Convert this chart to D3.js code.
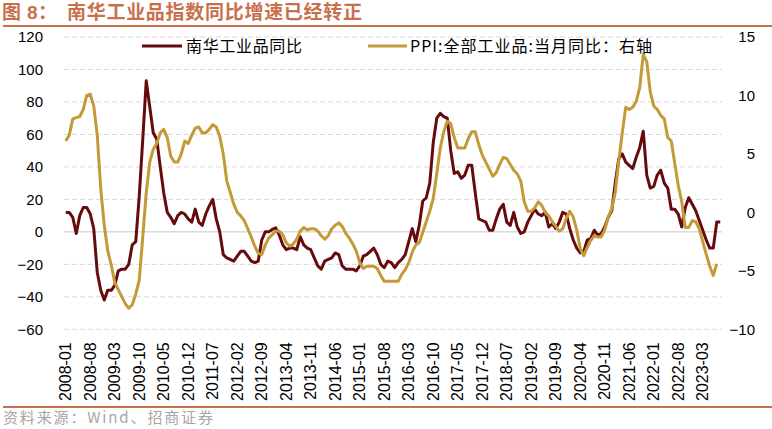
<!DOCTYPE html>
<html lang="zh-CN"><head><meta charset="utf-8">
<script src="https://cdn.jsdelivr.net/npm/d3@7/dist/d3.min.js"></script>
<style>
html,body{margin:0;padding:0;background:#fff;}
svg{display:block;}
</style></head>
<body>
<svg id="chart" width="772" height="429"></svg>
<script>
// ---- Data ----
const categories = (function(){ const out=[]; for(let y=2008;y<=2023;y++){ for(let m=1;m<=12;m++){ if(y===2023&&m>8) break; out.push(y+"-"+(m<10?"0"+m:m)); } } return out; })();

const tickLabels = ["2008-01","2008-08","2009-03","2009-10","2010-05","2010-12","2011-07","2012-02","2012-09","2013-04","2013-11","2014-06","2015-01","2015-08","2016-03","2016-10","2017-05","2017-12","2018-07","2019-02","2019-09","2020-04","2020-11","2021-06","2022-01","2022-08","2023-03"];

const seriesNames = ["南华工业品同比","PPI:全部工业品:当月同比：右轴"];

// 南华工业品指数同比 (left axis), 2008-01 .. 2023-08
const nanhua = [
 12,12,9,-1,10,15,15,11,2,-25,-36,-42,
 -36,-36,-33,-24,-23,-23,-20,-8,-6,22,57,93,
 77,61,57,40,24,12,9,5,10,12,11,8,
 6,14,6,4,11,16,20,8,0,-14,-16,-17,
 -18,-15,-12,-12,-15,-18,-19,-18,-5,0,0,1.5,
 2.5,-2,-8,-11,-10,-10,-11,-3,-8,-10,-11,-16,
 -21,-23,-18,-17,-16,-13,-14,-21,-23,-23,-23,-24,
 -21,-15,-14,-12,-10,-14,-20,-22,-18,-19,-22,-19,
 -17,-14,-6,2,-6,4,19,21,30,55,70,73,
 71,70,50,36,37,33,35,41,41,24,8,7,
 6,1,1,8,14,17,6,4,12,3,-1,0,
 6,10,14,11,10,12,3,5,2,6,12,11,
 2,-5,-10,-13,-12,-5,-4,1,-2,-1,3,9,
 13,30,45,48,43,41,39,46,52,62,35,27,
 28,35,38,30,27,14,14,11,3,15,21,17,
 13,7,1,-5,-10,-10,6,6
];

// PPI 全部工业品 当月同比 (right axis), 2008-01 .. 2023-07
const ppi = [
 6.1,6.6,8.0,8.1,8.2,8.8,10.0,10.1,9.1,6.6,2.0,-1.1,
 -3.3,-4.5,-6.0,-6.6,-7.2,-7.8,-8.2,-7.9,-7.0,-5.8,-2.1,1.7,
 4.3,5.4,5.9,6.8,7.1,6.4,4.8,4.3,4.3,5.0,6.1,5.9,
 6.6,7.2,7.3,6.8,6.8,7.1,7.5,7.3,6.5,5.0,2.7,1.7,
 0.7,0.0,-0.3,-0.7,-1.4,-2.1,-2.9,-3.5,-3.6,-2.8,-2.2,-1.9,
 -1.6,-1.6,-1.9,-2.6,-2.9,-2.7,-2.3,-1.6,-1.3,-1.5,-1.4,-1.4,
 -1.6,-2.0,-2.3,-2.0,-1.4,-1.1,-0.9,-1.2,-1.8,-2.2,-2.7,-3.3,
 -4.3,-4.8,-4.6,-4.6,-4.6,-4.8,-5.4,-5.9,-5.9,-5.9,-5.9,-5.9,
 -5.3,-4.9,-4.3,-3.4,-2.8,-2.6,-1.7,-0.8,0.1,1.2,3.3,5.5,
 6.9,7.8,7.6,6.4,5.5,5.5,5.5,6.3,6.9,6.9,5.8,4.9,
 4.3,3.7,3.1,3.4,4.1,4.7,4.6,4.1,3.6,3.3,2.7,0.9,
 0.1,0.1,0.4,0.9,0.6,0.0,-0.3,-0.8,-1.2,-1.6,-1.4,-0.5,
 0.1,-0.4,-1.5,-3.1,-3.7,-3.0,-2.4,-2.0,-2.1,-2.1,-1.5,-0.4,
 0.3,1.7,4.4,6.8,9.0,8.8,9.0,9.5,10.7,13.5,12.9,10.3,
 9.1,8.8,8.3,8.0,6.4,6.1,4.2,2.3,0.9,-1.3,-1.3,-0.7,
 -0.8,-1.4,-2.5,-3.6,-4.6,-5.4,-4.4
];

const leftTicks = [-60,-40,-20,0,20,40,60,80,100,120];
const rightTicks = [-10,-5,0,5,10,15];

// ---- Layout ----
const svg = d3.select("#chart");
const plot = {left:64, right:722, top:37, bottom:329.3};
const colMaroon = "#650B0E", colGold = "#C49A38", accent = "#C8704C";
const latin = "Arial, 'Liberation Sans', sans-serif";
const cjk = "'Noto Sans CJK SC', 'Noto Sans', sans-serif";
const titleFont = "Arial, 'Liberation Sans', 'Noto Sans CJK SC', sans-serif";

const x = d3.scaleBand().domain(categories).range([plot.left, plot.right]).padding(0);
const xc = c => x(c) + x.bandwidth()/2;
const yL = d3.scaleLinear().domain([-60,120]).range([plot.bottom, plot.top]);
const yR = d3.scaleLinear().domain([-10,15]).range([plot.bottom, plot.top]);

// Title
const title = svg.append("g").attr("font-family",titleFont).attr("font-size",19)
  .attr("font-weight","bold").attr("fill",accent);
title.append("text").attr("x",2).attr("y",18.5).text("图");
title.append("text").attr("x",27).attr("y",18.5).text("8");
title.append("text").attr("x",38).attr("y",18.5).text("：");
title.append("text").attr("x",67).attr("y",18.5)
  .attr("textLength",295).attr("lengthAdjust","spacing")
  .text("南华工业品指数同比增速已经转正");
svg.append("line").attr("x1",3).attr("x2",772).attr("y1",26).attr("y2",26)
  .attr("stroke",accent).attr("stroke-width",2);

// Gridlines
svg.append("g").selectAll("line").data(leftTicks).join("line")
  .attr("x1",plot.left).attr("x2",plot.right)
  .attr("y1",d=>yL(d)).attr("y2",d=>yL(d))
  .attr("stroke",d=>d===0?"#C8C8C8":"#D9D9D9")
  .attr("stroke-width",1)
  .attr("stroke-dasharray",d=>d===0?null:"5,3");

// Left axis
const gL = svg.append("g").attr("transform",`translate(${plot.left},0)`)
  .call(d3.axisLeft(yL).tickValues(leftTicks).tickSize(0).tickPadding(21));
gL.select(".domain").remove();
gL.selectAll("text").attr("font-family",latin).attr("font-size",15).attr("fill","#000");

// Right axis
const gR = svg.append("g").attr("transform",`translate(${plot.right},0)`)
  .call(d3.axisRight(yR).tickValues(rightTicks).tickSize(0).tickPadding(0));
gR.select(".domain").remove();
gR.selectAll("text").attr("font-family",latin).attr("font-size",15).attr("fill","#000")
  .attr("text-anchor","end").attr("x",33);

// Bottom axis
const gX = svg.append("g").attr("transform",`translate(0,${plot.bottom})`)
  .call(d3.axisBottom(x).tickValues(tickLabels).tickSize(0).tickFormat(d=>d));
gX.select(".domain").remove();
gX.selectAll(".tick").attr("transform", d=>`translate(${xc(d)},0)`);
gX.selectAll("text").attr("font-family",latin).attr("font-size",16).attr("fill","#000")
  .attr("transform","rotate(-90)").attr("text-anchor","end")
  .attr("x",-13).attr("y",0).attr("dy","0.35em");

// Lines
const lineL = d3.line().x((d,i)=>xc(categories[i])).y(d=>yL(d));
const lineR = d3.line().x((d,i)=>xc(categories[i])).y(d=>yR(d));
svg.append("path").datum(nanhua).attr("d",lineL).attr("fill","none")
  .attr("stroke",colMaroon).attr("stroke-width",3).attr("stroke-linejoin","round");
svg.append("path").datum(ppi).attr("d",lineR).attr("fill","none")
  .attr("stroke",colGold).attr("stroke-width",3).attr("stroke-linejoin","round");

// Legend
const legend = [
  {x1:142,x2:182,tx:186,len:116,color:colMaroon,label:seriesNames[0]},
  {x1:368,x2:407,tx:410,len:242,color:colGold,label:seriesNames[1]}
];
const lg = svg.append("g").selectAll("g").data(legend).join("g");
lg.append("line").attr("x1",d=>d.x1).attr("x2",d=>d.x2).attr("y1",46).attr("y2",46)
  .attr("stroke",d=>d.color).attr("stroke-width",3);
lg.append("text").attr("x",d=>d.tx).attr("y",46).attr("dy","0.35em")
  .attr("font-family",cjk).attr("font-size",16).attr("fill","#000")
  .attr("textLength",d=>d.len).attr("lengthAdjust","spacing")
  .text(d=>d.label);

// Bottom rule and source
svg.append("line").attr("x1",3).attr("x2",772).attr("y1",407).attr("y2",407)
  .attr("stroke",accent).attr("stroke-width",2);
svg.append("text").attr("x",3).attr("y",423)
  .attr("font-family",cjk).attr("font-size",15).attr("fill","#A6A6A6")
  .attr("textLength",210).attr("lengthAdjust","spacing")
  .text("资料来源：Wind、招商证券");
</script>
</body></html>
